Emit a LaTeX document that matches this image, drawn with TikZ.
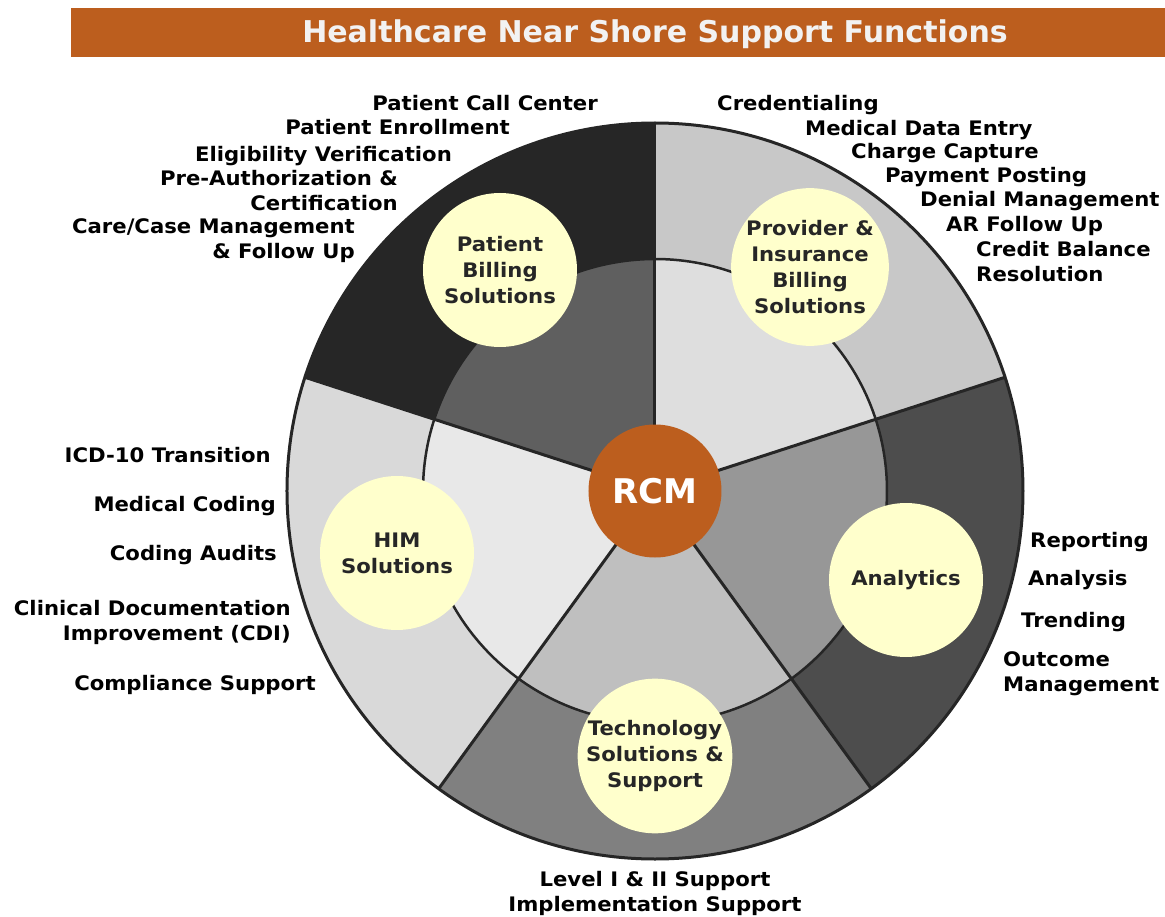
\documentclass[tikz,border=0pt]{standalone}
\usepackage{fontspec}
\setmainfont{DejaVu Sans}
\newfontfamily\lblfont[FakeStretch=1.06]{DejaVu Sans}
\usepackage{tikz}
\definecolor{rcmOrange}{HTML}{BC5E1E}
\definecolor{ringLine}{HTML}{262626}
\definecolor{hubYellow}{HTML}{FFFFCC}
\definecolor{hubInk}{HTML}{262626}
\definecolor{titleInk}{HTML}{F2F2F2}
% outer / inner shades of the five wedges
\definecolor{patOut}{HTML}{262626}
\definecolor{patIn}{HTML}{5F5F5F}
\definecolor{provOut}{HTML}{C8C8C8}
\definecolor{provIn}{HTML}{DEDEDE}
\definecolor{anaOut}{HTML}{4D4D4D}
\definecolor{anaIn}{HTML}{979797}
\definecolor{techOut}{HTML}{808080}
\definecolor{techIn}{HTML}{BFBFBF}
\definecolor{himOut}{HTML}{D9D9D9}
\definecolor{himIn}{HTML}{E8E8E8}
\tikzset{
  lbl/.style   = {font=\lblfont\bfseries\fontsize{20}{25}\selectfont, inner sep=0pt},
  hub/.style   = {circle, fill=hubYellow, minimum size=154pt, inner sep=0pt,
                  align=center, text=hubInk, font=\lblfont\bfseries\fontsize{20}{26}\selectfont},
  rim/.style   = {draw=ringLine, line width=3pt},
  core/.style  = {circle, fill=rcmOrange, minimum size=133pt, inner sep=0pt,
                  text=white, font=\bfseries\fontsize{34}{40}\selectfont}
}
\begin{document}
\begin{tikzpicture}[x=1pt, y=1pt]
  \useasboundingbox (-655,-425) rectangle (510,491);

  % title bar
  \fill[rcmOrange] (-584,434) rectangle (510,483);
  \node[anchor=base, text=titleInk, inner sep=0pt, font=\bfseries\fontsize{30}{36}\selectfont]
    (title) at (0,448) {Healthcare Near Shore Support Functions};

  % wheel
  \foreach \a/\outer/\inner in {18/provOut/provIn, 90/patOut/patIn, 162/himOut/himIn,
                                234/techOut/techIn, 306/anaOut/anaIn} {
    \fill[\outer] (0,0) -- (\a:368) arc[start angle=\a, end angle=\a+72, radius=368] -- cycle;
    \fill[\inner] (0,0) -- (\a:232) arc[start angle=\a, end angle=\a+72, radius=232] -- cycle;
  }
  \draw[rim, line width=2.5pt] (0,0) circle[radius=232];
  \foreach \a in {18,90,...,306} \draw[rim] (0,0) -- (\a:368);
  \draw[rim] (0,0) circle[radius=368];

  \node[core] (rcm) at (0,0) {RCM};

  \node[hub] (patient)  at (-155,221) {Patient\\Billing\\Solutions};
  \node[hub] (provider) at (155,224)  {Provider \&\\Insurance\\Billing\\Solutions};
  \node[hub] (analytics) at (251,-89) {Analytics};
  \node[hub] (tech)     at (0,-265)   {Technology\\Solutions \&\\Support};
  \node[hub] (him)      at (-258,-62) {HIM\\Solutions};

  % patient billing services (multi-line nodes sit on their last baseline)
  \node[lbl, anchor=base east] (callctr) at (-57,380) {Patient Call Center};
  \node[lbl, anchor=base east] (enroll)  at (-145,356) {Patient Enrollment};
  \node[lbl, anchor=base east] (elig)    at (-203,329) {Eligibility Verification};
  \node[lbl, anchor=base east, align=right] (preauth) at (-257,280) {Pre-Authorization \&\\Certification};
  \node[lbl, anchor=base east, align=right] (casemgmt) at (-300,232) {Care/Case Management\\\& Follow Up};

  % provider and insurance billing services
  \node[lbl, anchor=base west] (cred)    at (62,380)  {Credentialing};
  \node[lbl, anchor=base west] (entry)   at (150,355) {Medical Data Entry};
  \node[lbl, anchor=base west] (charge)  at (196,332) {Charge Capture};
  \node[lbl, anchor=base west] (payment) at (230,308) {Payment Posting};
  \node[lbl, anchor=base west] (denial)  at (265,284) {Denial Management};
  \node[lbl, anchor=base west] (arfu)    at (291,259) {AR Follow Up};
  \node[lbl, anchor=base west, align=left] (credit) at (321,209) {Credit Balance\\Resolution};

  % HIM services
  \node[lbl, anchor=base east] (icd)     at (-384,29)  {ICD-10 Transition};
  \node[lbl, anchor=base east] (coding)  at (-379,-20) {Medical Coding};
  \node[lbl, anchor=base east] (audits)  at (-378,-69) {Coding Audits};
  \node[lbl, anchor=base east, align=right] (cdi) at (-364,-149) {Clinical Documentation\\Improvement (CDI)};
  \node[lbl, anchor=base east] (compl)   at (-339,-199) {Compliance Support};

  % analytics services
  \node[lbl, anchor=base west] (report)  at (375,-56)  {Reporting};
  \node[lbl, anchor=base west] (analysis) at (373,-94) {Analysis};
  \node[lbl, anchor=base west] (trend)   at (366,-136) {Trending};
  \node[lbl, anchor=base west, align=left] (outcome) at (348,-200) {Outcome\\Management};

  % technology services
  \node[lbl, anchor=base, align=center] (support) at (0,-420) {Level I \& II Support\\Implementation Support};
\end{tikzpicture}
\end{document}
